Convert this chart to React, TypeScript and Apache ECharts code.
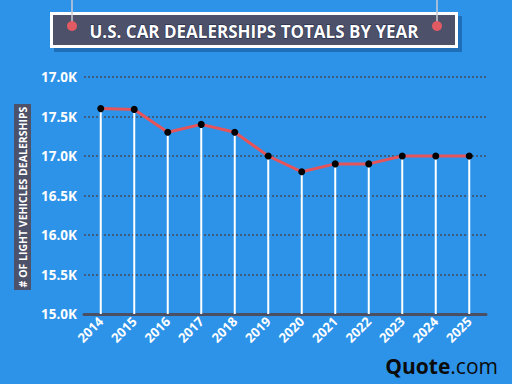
import React, { useEffect, useRef } from "react";
import * as echarts from "echarts";

const years = ["2014", "2015", "2016", "2017", "2018", "2019", "2020", "2021", "2022", "2023", "2024", "2025"];
const dealerships = [17600, 17590, 17300, 17400, 17300, 17000, 16800, 16900, 16900, 17000, 17000, 17000];
const yTickLabels: Record<number, string> = {
  15000: "15.0K",
  15500: "15.5K",
  16000: "16.0K",
  16500: "16.5K",
  17000: "17.0K",
  17500: "17.5K",
  18000: "17.0K",
};
const title = "U.S. CAR DEALERSHIPS TOTALS BY YEAR";
const yName = "# OF LIGHT VEHICLES DEALERSHIPS";

export default function App() {
  const ref = useRef<HTMLDivElement>(null);
  useEffect(() => {
    const chart = echarts.init(ref.current!, null, { renderer: "svg" });
    const font = "'Open Sans', Lato, sans-serif";
    chart.setOption({
      animation: false,
      backgroundColor: "#2c93e9",
      grid: { left: 84, right: 26, top: 77, bottom: 70 },
      xAxis: {
        type: "category",
        data: years,
        boundaryGap: true,
        axisLine: { show: true, lineStyle: { color: "#4a4f63", width: 3 } },
        axisTick: { show: false },
        axisLabel: {
          rotate: 45,
          color: "#ffffff",
          fontWeight: "bold",
          fontSize: 13,
          fontFamily: font,
          margin: 5,
        },
      },
      yAxis: {
        type: "value",
        min: 15000,
        max: 18000,
        interval: 500,
        axisLine: { show: false },
        axisTick: { show: false },
        axisLabel: {
          color: "#ffffff",
          fontWeight: "bold",
          fontSize: 13.5,
          fontFamily: font,
          margin: 7,
          formatter: (v: number) => yTickLabels[v] ?? "",
        },
        splitLine: { show: true, lineStyle: { color: "#454c5e", type: [2, 2], width: 1.5 } },
      },
      series: [
        {
          type: "bar",
          data: dealerships,
          barWidth: 2,
          clip: true,
          itemStyle: { color: "#ffffff" },
          z: 1,
        },
        {
          type: "line",
          data: dealerships,
          lineStyle: { color: "#e5545a", width: 3 },
          symbol: "circle",
          symbolSize: 7,
          itemStyle: { color: "#000000" },
          z: 3,
        },
      ],
      graphic: [
        { type: "line", shape: { x1: 72, y1: 0, x2: 72, y2: 26 }, style: { stroke: "#c8cbd4", lineWidth: 1.5 }, z: 10 },
        { type: "line", shape: { x1: 437, y1: 0, x2: 437, y2: 26 }, style: { stroke: "#c8cbd4", lineWidth: 1.5 }, z: 10 },
        { type: "rect", shape: { x: 54, y: 16, width: 408, height: 36 }, style: { fill: "#1f6fb8" }, z: 8 },
        { type: "rect", shape: { x: 50, y: 12, width: 408, height: 36 }, style: { fill: "#ffffff" }, z: 9 },
        { type: "rect", shape: { x: 53, y: 15, width: 402, height: 30 }, style: { fill: "#4d5169" }, z: 9 },
        { type: "circle", shape: { cx: 72, cy: 26, r: 5 }, style: { fill: "#e25a62" }, z: 11 },
        { type: "circle", shape: { cx: 437, cy: 26, r: 5 }, style: { fill: "#e25a62" }, z: 11 },
        {
          type: "text",
          x: 254,
          y: 31,
          z: 12,
          style: {
            text: title,
            fill: "#ffffff",
            font: `bold 17px ${font}`,
            align: "center",
            verticalAlign: "middle",
            stroke: "#1b2545",
            lineWidth: 1,
          },
        },
        { type: "rect", shape: { x: 14, y: 104, width: 17, height: 186 }, style: { fill: "#4d5169" }, z: 9 },
        {
          type: "text",
          x: 22.5,
          y: 197,
          rotation: Math.PI / 2,
          z: 12,
          style: {
            text: yName,
            fill: "#ffffff",
            font: `bold 10.5px ${font}`,
            align: "center",
            verticalAlign: "middle",
          },
        },
        {
          type: "text",
          right: 14,
          top: 355,
          z: 12,
          style: {
            text: "{b|Quote}{n|.com}",
            rich: {
              b: { fill: "#0b0b0b", fontWeight: "bold", fontSize: 21, fontFamily: font },
              n: { fill: "#0b0b0b", fontSize: 21, fontFamily: font },
            },
          },
        },
      ],
    });
    return () => chart.dispose();
  }, []);
  return (
    <div
      ref={ref}
      style={{ position: "absolute", left: 0, top: 0, width: 512, height: 384 }}
    />
  );
}
